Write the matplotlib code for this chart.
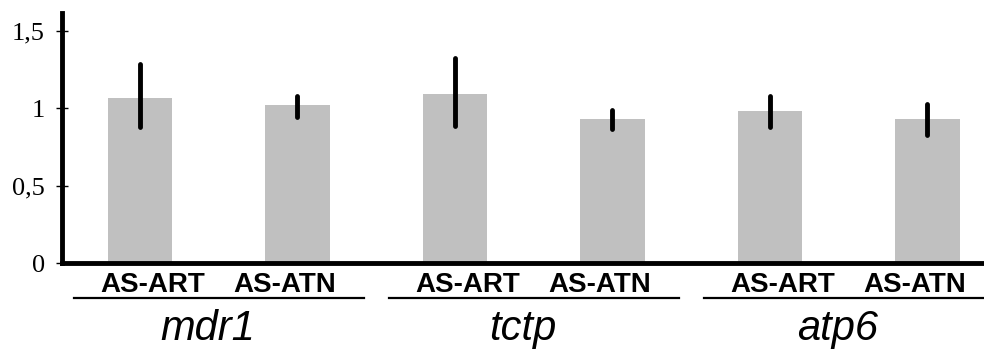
import matplotlib.pyplot as plt
import numpy as np

# data
genes = ["mdr1", "tctp", "atp6"]
groups = ["AS-ART", "AS-ATN"]
means = [1.065, 1.02, 1.09, 0.93, 0.98, 0.93]
err_low = [0.877, 0.946, 0.886, 0.864, 0.877, 0.827]
err_high = [1.286, 1.081, 1.323, 0.989, 1.08, 1.028]

x = np.arange(len(means))
means = np.array(means)
yerr = [means - np.array(err_low), np.array(err_high) - means]

fig = plt.figure(figsize=(9.84, 3.49), dpi=100)
ax = fig.add_axes([62 / 984, 86 / 349, 922 / 984, 250 / 349])

ax.bar(x, means, width=0.41, color="#c0c0c0", zorder=1)
eb = ax.errorbar(x, means, yerr=yerr, fmt="none", ecolor="black",
                 elinewidth=3.5, capsize=0, zorder=2)
for lc in eb[2]:
    lc.set_capstyle("round")

ax.set_xlim(-0.495, 5.36)
ax.set_ylim(0, 1.616)
ax.set_yticks([0, 0.5, 1, 1.5])
ax.set_yticklabels(["0", "0,5", "1", "1,5"], family="Liberation Serif", fontsize=19)
ax.tick_params(axis="y", direction="inout", length=9, width=1, pad=8)
ax.set_xticks([])

for s in ["top", "right"]:
    ax.spines[s].set_visible(False)
ax.spines["left"].set_linewidth(3.5)
ax.spines["bottom"].set_linewidth(3.5)

# category labels, underline and gene name per group
for i, g in enumerate(genes):
    gc = 2 * i + 0.5
    ax.text(gc - 0.42, -0.19, groups[0], ha="center", va="baseline",
            family="Liberation Sans", fontweight="bold", fontsize=20, clip_on=False)
    ax.text(gc + 0.42, -0.19, groups[1], ha="center", va="baseline",
            family="Liberation Sans", fontweight="bold", fontsize=20, clip_on=False)
    ax.plot([gc - 0.92, gc + 0.92], [-0.226, -0.226], color="black", lw=1.6,
            clip_on=False)
    ax.text(gc - 0.07, -0.50, g, ha="center", va="baseline",
            family="Liberation Sans", style="italic", fontsize=30, clip_on=False)

fig.savefig("out.png", dpi=100)
